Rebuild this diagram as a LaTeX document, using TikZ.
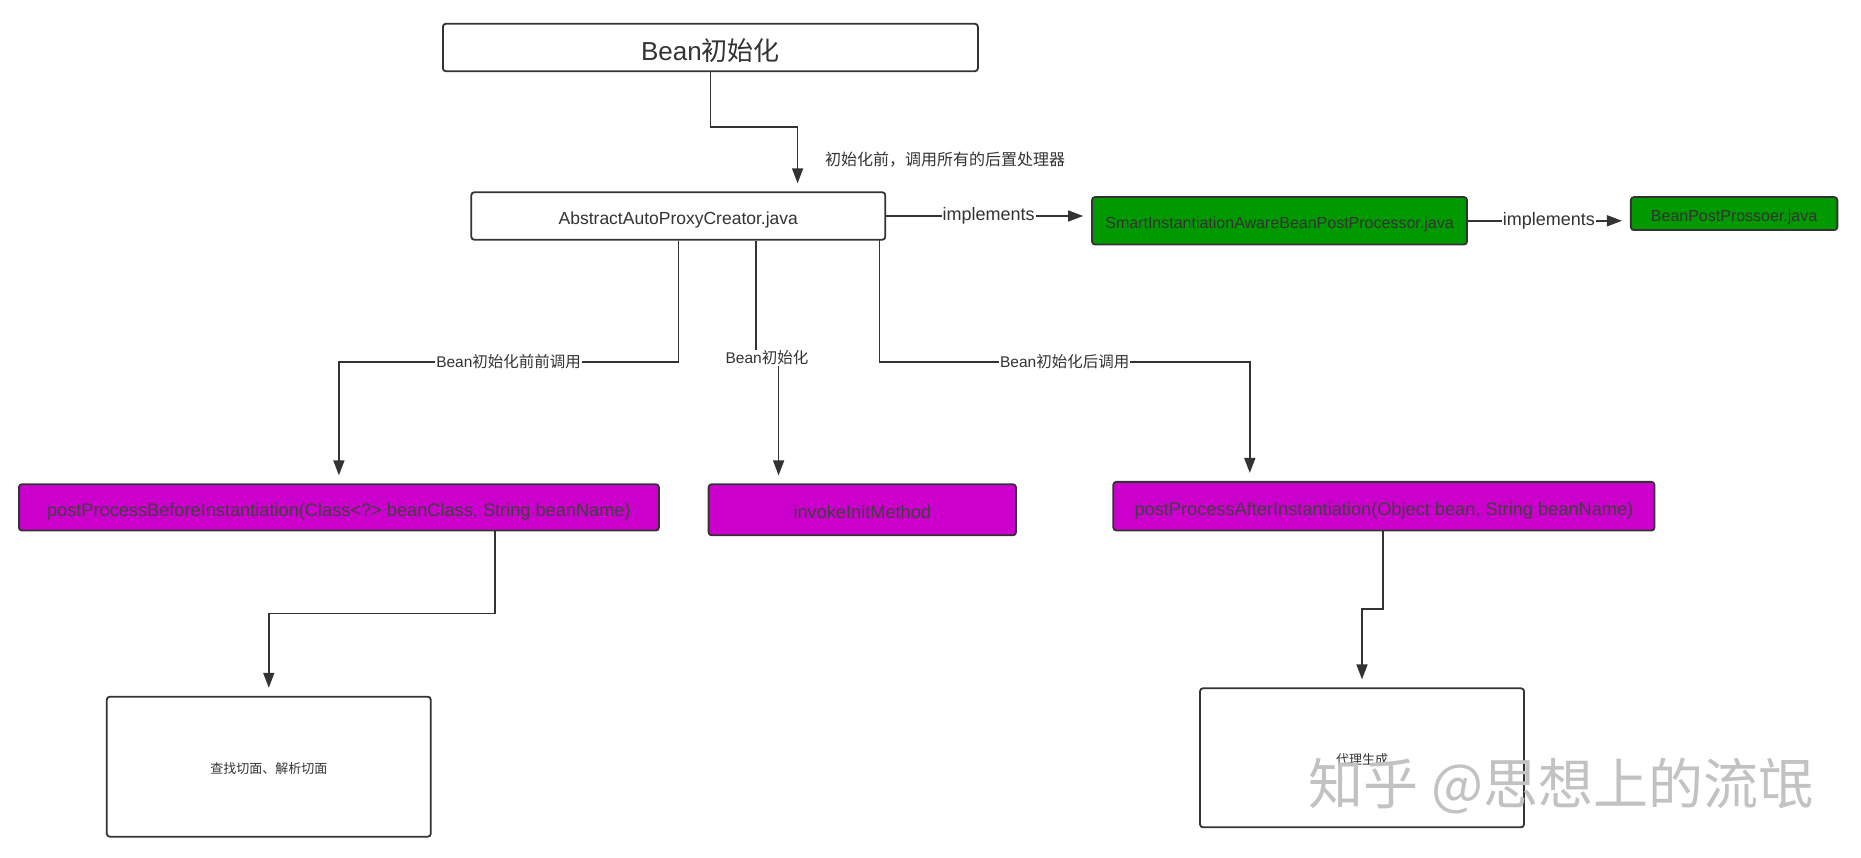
\documentclass[tikz,border=0pt]{standalone}
\usepackage{fontspec}
\setmainfont{Liberation Sans}
\newfontfamily\cjk{Noto Sans CJK SC}
\usetikzlibrary{arrows.meta}
\definecolor{edge}{HTML}{333333}
\definecolor{boxgreen}{HTML}{009900}
\definecolor{boxpink}{HTML}{CC00CC}
\tikzset{
	box/.style={draw=edge, line width=1.8pt, rounded corners=3pt, fill=white, text=edge, inner sep=0pt, text height=17.5pt, text depth=0pt, font=\fontsize{17.5}{19}\selectfont},
	greenbox/.style={box, fill=boxgreen, text=black!80, text height=16pt, font=\fontsize{16}{18}\selectfont},
	pinkbox/.style={box, fill=boxpink, text=black!75, text height=18.2pt, font=\fontsize{18.2}{20}\selectfont},
	notebox/.style={box, text height=13pt, font=\cjk\fontsize{13}{15}\selectfont},
	conn/.style={draw=edge, line width=1.6pt, -{Triangle[length=15pt,width=11pt]}, shorten >=8pt},
	lbl/.style={fill=white, text=edge, inner sep=1pt, font=\fontsize{15.5}{17}\selectfont}
}
\begin{document}
\begin{tikzpicture}[x=1pt, y=-1pt]
			%%%%% START %%%%%
			\useasboundingbox (0, 0) rectangle (1861, 858);
			
			\node[box, minimum width=535pt, minimum height=47.5pt, text height=26pt, font=\fontsize{26}{28}\selectfont] (init) at (710.4, 47.5) {Bean{\cjk 初始化}};
			\node[box, minimum width=414pt, minimum height=47.5pt] (aapc) at (678.3, 216) {AbstractAutoProxyCreator.java};
			\node[greenbox, minimum width=375pt, minimum height=47.5pt] (smart) at (1279.5, 220.8) {SmartInstantiationAwareBeanPostProcessor.java};
			\node[greenbox, minimum width=206.5pt, minimum height=33pt] (bpp) at (1734.1, 213.6) {BeanPostProssoer.java};
			
			\node[pinkbox, minimum width=640pt, minimum height=46.3pt] (before) at (338.9, 507.4) {postProcessBeforeInstantiation(Class<?> beanClass, String beanName)};
			\node[pinkbox, minimum width=307.4pt, minimum height=51pt] (invoke) at (862.3, 509.8) {invokeInitMethod};
			\node[pinkbox, minimum width=541.2pt, minimum height=48.7pt] (after) at (1383.9, 506.2) {postProcessAfterInstantiation(Object bean, String beanName)};
			
			\node[notebox, minimum width=324pt, minimum height=140pt] (find) at (268.8, 766.7) {查找切面、解析切面};
			\node[notebox, minimum width=324pt, minimum height=139pt] (proxy) at (1362, 757.8) {代理生成};
			
			% bend points
			\coordinate (b1) at (797.6, 127);
			\coordinate (b2) at (756, 358);
			\coordinate (b3) at (778.6, 358);
			\coordinate (b4) at (495, 613.6);
			\coordinate (b5) at (1382.7, 608.9);
			
			\draw[conn] (init.south) |- (b1) -- (b1 |- aapc.north);
			\node[lbl, anchor=west, font=\cjk\fontsize{16}{18}\selectfont] (lb1) at (824, 160) {初始化前，调用所有的后置处理器};
			
			\draw[conn] (aapc.east) -- node[lbl, font=\fontsize{18}{20}\selectfont] (im1) {implements} (aapc.east -| smart.west);
			\draw[conn] (smart.east) -- node[lbl, font=\fontsize{18}{20}\selectfont] (im2) {implements} (smart.east -| bpp.west);
			
			\draw[conn] (aapc.south) -- (aapc.south |- 0, 362) -| node[lbl, pos=0.25] (lb2) {Bean{\cjk 初始化前前调用}} (before.north);
			\draw[conn] (aapc.south -| b2) -- (b2) -- (b3) -- (b3 |- invoke.north);
			\node[lbl] (lb3) at (767, 358) {Bean{\cjk 初始化}};
			\draw[conn] (879.5, 240) -- (879.5, 362) -| node[lbl, pos=0.25] (lb4) {Bean{\cjk 初始化后调用}} (after.north -| 1249.8, 0);
			
			\draw[conn] (before.south -| b4) |- (b4) -| (find.north);
			\draw[conn] (after.south -| b5) |- (b5) -| (proxy.north);
			
			\node[text=black!24, font=\cjk\fontsize{55}{57}\selectfont] (mark) at (1561, 786) {知乎 @思想上的流氓};
			
			%%%%% END %%%%%
		\end{tikzpicture}
\end{document}
